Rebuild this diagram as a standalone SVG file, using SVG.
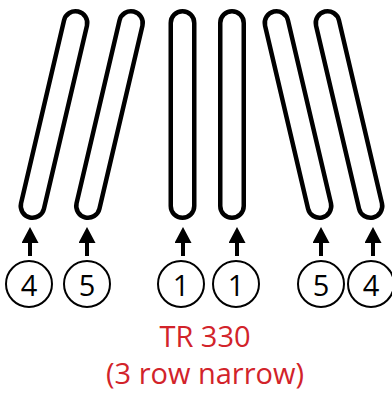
<svg xmlns="http://www.w3.org/2000/svg" width="392" height="397" viewBox="0 0 392 397">
<style>
.tube{fill:#fff;stroke:#000;stroke-width:4.5}
.ring{fill:#fff;stroke:#000;stroke-width:2}
.num{font-family:"Open Sans","Noto Sans",sans-serif;font-size:29px;text-anchor:middle;fill:#000}
.arr{stroke:#000;stroke-width:4;fill:none}
.title{font-family:"Open Sans","Noto Sans",sans-serif;font-size:29px;text-anchor:middle;fill:#d2232a}
</style>
<defs>
<marker id="ah" viewBox="0 0 16 17" refX="0" refY="8.5" markerWidth="16" markerHeight="17" markerUnits="userSpaceOnUse" orient="auto">
<path d="M0,0 L16,8.5 L0,17 Z" fill="#000"/>
</marker>
</defs>
<rect width="392" height="397" fill="#fff"/>
<g id="tube1"><rect class="tube" x="-11.75" y="-105.75" width="23.5" height="211.5" rx="11.75" transform="translate(54,114.5) rotate(13.22)"/></g>
<g id="tube2"><rect class="tube" x="-11.75" y="-105.75" width="23.5" height="211.5" rx="11.75" transform="translate(109.5,114.5) rotate(13.22)"/></g>
<g id="tube3"><rect class="tube" x="170.75" y="11.25" width="23.5" height="206.5" rx="11.75"/></g>
<g id="tube4"><rect class="tube" x="220.25" y="11.25" width="23.5" height="206.5" rx="11.75"/></g>
<g id="tube5"><rect class="tube" x="-11.75" y="-105.75" width="23.5" height="211.5" rx="11.75" transform="translate(298,114.5) rotate(-13.22)"/></g>
<g id="tube6"><rect class="tube" x="-11.75" y="-105.75" width="23.5" height="211.5" rx="11.75" transform="translate(349,114.5) rotate(-13.22)"/></g>
<g id="connectors">
<line class="arr" x1="30" y1="256" x2="30" y2="243" marker-end="url(#ah)"/>
<line class="arr" x1="87" y1="256" x2="87" y2="243" marker-end="url(#ah)"/>
<line class="arr" x1="183" y1="256" x2="183" y2="243" marker-end="url(#ah)"/>
<line class="arr" x1="237" y1="256" x2="237" y2="243" marker-end="url(#ah)"/>
<line class="arr" x1="321" y1="256" x2="321" y2="243" marker-end="url(#ah)"/>
<line class="arr" x1="373" y1="256" x2="373" y2="243" marker-end="url(#ah)"/>
</g>
<g id="n4a"><circle class="ring" cx="29" cy="284" r="23"/><text class="num" x="29" y="296">4</text></g>
<g id="n5a"><circle class="ring" cx="87" cy="284" r="23"/><text class="num" x="87" y="296">5</text></g>
<g id="n1a"><circle class="ring" cx="181" cy="284" r="23"/><text class="num" x="181" y="296">1</text></g>
<g id="n1b"><circle class="ring" cx="236" cy="284" r="23"/><text class="num" x="236" y="296">1</text></g>
<g id="n5b"><circle class="ring" cx="321" cy="284" r="23"/><text class="num" x="321" y="296">5</text></g>
<g id="n4b"><circle class="ring" cx="371" cy="284" r="23"/><text class="num" x="371" y="296">4</text></g>
<g id="label">
<text class="title" x="205" y="347">TR 330</text>
<text class="title" x="205" y="384">(3 row narrow)</text>
</g>
</svg>
